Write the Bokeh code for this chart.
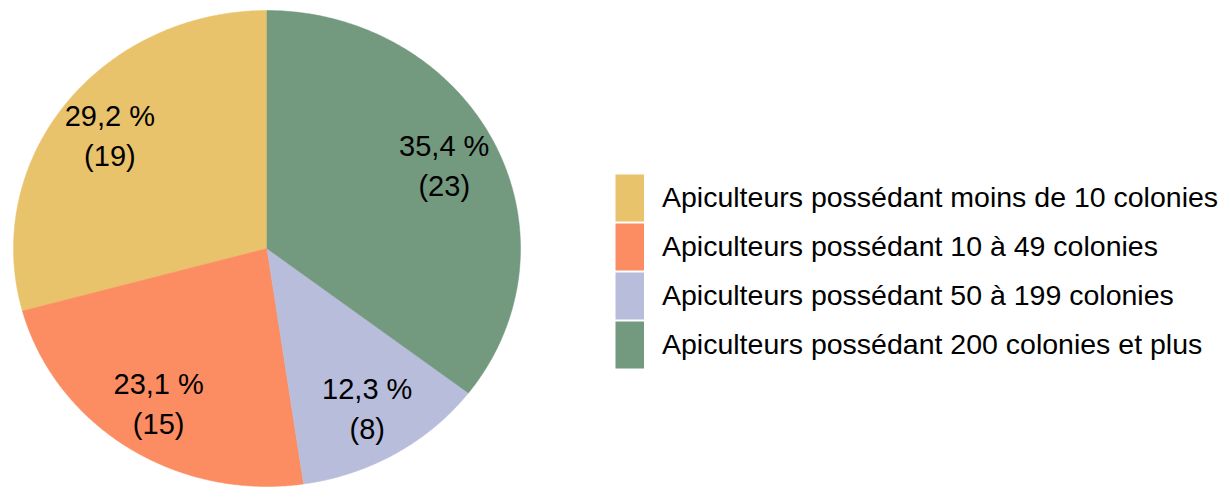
import numpy as np
from bokeh.plotting import figure
from bokeh.models import Range1d, Legend, LegendItem, ColumnDataSource
from bokeh.core.properties import value
from bokeh.embed import file_html
from bokeh.resources import INLINE

# ---- data ----
categories = [
    "Apiculteurs possédant moins de 10 colonies",
    "Apiculteurs possédant 10 à 49 colonies",
    "Apiculteurs possédant 50 à 199 colonies",
    "Apiculteurs possédant 200 colonies et plus",
]
counts = [19, 15, 8, 23]
colors = ["#E8C36C", "#FC8D62", "#B8BDDB", "#73997F"]

FONT = "Liberation Sans"

W, H = 1220, 488
cx_px, cy_px = 266.5, 248.0      # pie centre in canvas pixels
rx_px, ry_px = 253.5, 238.0      # pie radii in pixels (slightly elliptical)

p = figure(width=W, height=H, output_backend="svg", toolbar_location=None,
           x_axis_type=None, y_axis_type=None, min_border=0,
           x_range=Range1d(-cx_px / rx_px, (W - cx_px) / rx_px),
           y_range=Range1d(-(H - cy_px) / ry_px, cy_px / ry_px))
p.outline_line_color = None
p.grid.visible = False
p.background_fill_color = "white"
p.border_fill_color = "white"

total = sum(counts)
fracs = np.array(counts) / total
ends = np.cumsum(fracs)
starts = ends - fracs

items = []
lx, ly, pct_txt, cnt_txt = [], [], [], []
for cat, c, col, f0, f1 in zip(categories, counts, colors, starts, ends):
    # angles measured counter-clockwise from 12 o'clock
    th = np.linspace(f0, f1, 200) * 2 * np.pi
    xs = np.concatenate([[0.0], -np.sin(th), [0.0]])
    ys = np.concatenate([[0.0], np.cos(th), [0.0]])
    p.patch(xs, ys, fill_color=col, line_color=col, line_width=0.5)
    # legend swatch: a non-drawn thick line renderer so the key is a full block
    key = p.line(x=[np.nan], y=[np.nan], line_color=col, line_width=47,
                 line_cap="butt")
    items.append(LegendItem(label=cat, renderers=[key]))
    mid = (f0 + f1) / 2 * 2 * np.pi
    lx.append(-0.78 * np.sin(mid))
    ly.append(0.78 * np.cos(mid))
    pct_txt.append(f"{c / total * 100:.1f}".replace(".", ",") + " %")
    cnt_txt.append(f"({c})")

src = ColumnDataSource(dict(x=lx, y=ly, pct=pct_txt, cnt=cnt_txt))
p.text(x="x", y="y", text="pct", source=src, y_offset=-20,
       text_font=value(FONT), text_font_size="29px", text_color="#000000",
       text_align="center", text_baseline="middle")
p.text(x="x", y="y", text="cnt", source=src, y_offset=20,
       text_font=value(FONT), text_font_size="29px", text_color="#000000",
       text_align="center", text_baseline="middle")

legend = Legend(items=items, location=(615, 119), orientation="vertical",
                glyph_width=29, glyph_height=49, spacing=0,
                label_standoff=18, label_height=40,
                label_text_font=FONT, label_text_font_size="28.5px",
                label_text_color="#000000",
                padding=0, margin=0, border_line_color=None,
                background_fill_alpha=0)
p.add_layout(legend)

open("out.html", "w").write(file_html(p, INLINE))
